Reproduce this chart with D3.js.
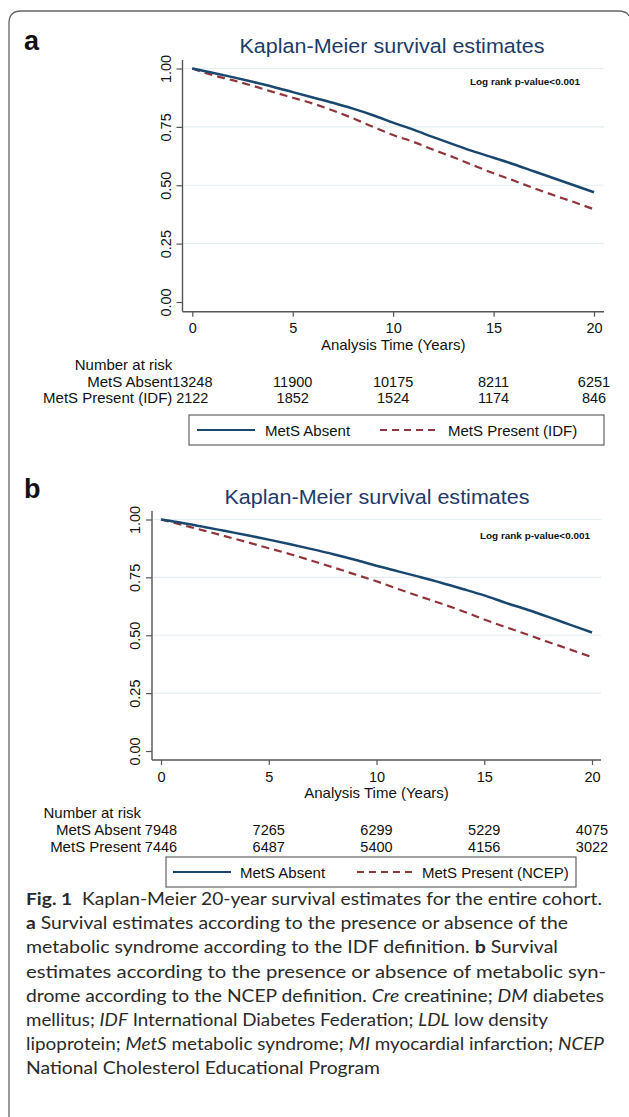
<!DOCTYPE html>
<html>
<head>
<meta charset="utf-8">
<script src="https://cdn.jsdelivr.net/npm/d3@7"></script>
<style>
  html, body { margin: 0; padding: 0; background: #fff; }
  svg { display: block; }
</style>
</head>
<body>
<svg id="chart" width="629" height="1117"></svg>
<script>
// ---------------- DATA ----------------
const years = [0,1,2,3,4,5,6,7,8,9,10,11,12,13,14,15,16,17,18,19,20];
const survAbsentA  = [1.000,0.982,0.963,0.943,0.922,0.899,0.876,0.853,0.828,0.800,0.768,0.738,0.706,0.675,0.645,0.618,0.590,0.560,0.530,0.500,0.470];
const survPresentA = [1.000,0.972,0.950,0.926,0.900,0.875,0.850,0.820,0.787,0.750,0.715,0.686,0.652,0.620,0.585,0.551,0.520,0.488,0.457,0.428,0.397];
const survAbsentB  = [1.000,0.985,0.968,0.950,0.932,0.913,0.893,0.872,0.850,0.826,0.800,0.776,0.752,0.727,0.700,0.672,0.640,0.610,0.578,0.545,0.512];
const survPresentB = [1.000,0.976,0.952,0.927,0.902,0.876,0.850,0.822,0.793,0.763,0.733,0.700,0.668,0.637,0.604,0.568,0.535,0.503,0.470,0.438,0.405];

const xTicks = [0,5,10,15,20];
const yTicks = [0,0.25,0.5,0.75,1];
const yTickLabels = ["0.00","0.25","0.50","0.75","1.00"];
const riskTimes = [0,5,10,15,20];
const riskAbsentA  = [13248,11900,10175,8211,6251];
const riskPresentA = [2122,1852,1524,1174,846];
const riskAbsentB  = [7948,7265,6299,5229,4075];
const riskPresentB = [7446,6487,5400,4156,3022];
const rowLabelsA = ["MetS Absent","MetS Present (IDF)"];
const rowLabelsB = ["MetS Absent","MetS Present"];
const legendLabelsA = ["MetS Absent","MetS Present (IDF)"];
const legendLabelsB = ["MetS Absent","MetS Present (NCEP)"];
const titleText = "Kaplan-Meier survival estimates";
const pvalText = "Log rank p-value<0.001";
const xTitle = "Analysis Time (Years)";
const riskTitle = "Number at risk";

// ---------------- STYLE ----------------
const FONT = "'Liberation Sans', Arial, Helvetica, sans-serif";
const BLUE = "#1a476f";
const RED = "#90353b";
const TITLE_COL = "#1e3a68";
const GRID = "#e4edf0";
const AXIS = "#555";

const svg = d3.select("#chart");

// frame (left and top edges only)
svg.append("path")
  .attr("d", "M9,1120 L9,23 Q9,11 21,11 L618,11 Q627,11 629,16")
  .attr("fill", "none").attr("stroke", "#666").attr("stroke-width", 1.3);

function panel(cfg) {
  const g = svg.append("g");
  const x = d3.scaleLinear().domain([0, 20]).range([cfg.x0, cfg.x20]);
  const y = d3.scaleLinear().domain([0, 1]).range([cfg.y0, cfg.y1]);

  // panel letter
  g.append("text").attr("x", cfg.letterX).attr("y", cfg.letterY)
    .attr("font-family", FONT).attr("font-weight", "bold").attr("font-size", 27)
    .attr("fill", "#111").text(cfg.letter);

  // title
  g.append("text").attr("x", cfg.titleX).attr("y", cfg.titleY)
    .attr("text-anchor", "middle").attr("font-family", FONT).attr("font-size", 20.5)
    .attr("fill", TITLE_COL).attr("textLength", 305).attr("lengthAdjust", "spacingAndGlyphs")
    .text(titleText);

  // gridlines
  g.append("g").selectAll("line").data(yTicks.filter(d => d > 0)).join("line")
    .attr("x1", cfg.axisX + 1).attr("x2", cfg.xEnd)
    .attr("y1", d => y(d)).attr("y2", d => y(d))
    .attr("stroke", GRID).attr("stroke-width", 1.2);

  // y axis
  const yAxis = d3.axisLeft(y).tickValues(yTicks)
    .tickFormat((d, i) => yTickLabels[i]).tickSize(6).tickSizeOuter(0);
  const ya = g.append("g").attr("transform", `translate(${cfg.axisX},0)`).call(yAxis);
  ya.select(".domain").attr("d", `M0,${cfg.yTop}V${cfg.axisY}`).attr("stroke", AXIS).attr("stroke-width", 1.4);
  ya.selectAll(".tick line").attr("stroke", AXIS).attr("stroke-width", 1.2);
  ya.selectAll(".tick text")
    .attr("font-family", FONT).attr("font-size", 14.5).attr("fill", "#111")
    .attr("x", null).attr("dy", null)
    .attr("text-anchor", "middle")
    .attr("transform", "translate(-12,0) rotate(-90)");

  // x axis
  const xAxis = d3.axisBottom(x).tickValues(xTicks).tickSize(5).tickSizeOuter(0);
  const xa = g.append("g").attr("transform", `translate(0,${cfg.axisY})`).call(xAxis);
  xa.select(".domain").attr("d", `M${cfg.axisX},0H${cfg.xEnd}`).attr("stroke", AXIS).attr("stroke-width", 1.4);
  xa.selectAll(".tick line").attr("stroke", AXIS).attr("stroke-width", 1.2);
  xa.selectAll(".tick text")
    .attr("font-family", FONT).attr("font-size", 14.5).attr("fill", "#111")
    .attr("y", 21.5).attr("dy", null);

  // x title
  g.append("text").attr("x", (cfg.x0 + cfg.x20) / 2).attr("y", cfg.axisY + 38)
    .attr("text-anchor", "middle").attr("font-family", FONT).attr("font-size", 15)
    .attr("fill", "#111").text(xTitle);

  // log rank
  g.append("text").attr("x", cfg.pX).attr("y", cfg.pY)
    .attr("font-family", FONT).attr("font-weight", "bold").attr("font-size", 9.5)
    .attr("fill", "#111").attr("textLength", 110).attr("lengthAdjust", "spacingAndGlyphs")
    .text(pvalText);

  // curves
  const line = d3.line().x((d, i) => x(years[i])).y(d => y(d)).curve(d3.curveMonotoneX);
  g.append("path").datum(cfg.present).attr("d", line)
    .attr("fill", "none").attr("stroke", RED).attr("stroke-width", 2.2)
    .attr("stroke-dasharray", "8,5");
  g.append("path").datum(cfg.absent).attr("d", line)
    .attr("fill", "none").attr("stroke", BLUE).attr("stroke-width", 2.5);

  // risk table
  const labelRight = cfg.x0 - 20;
  const rt = g.append("g").attr("font-family", FONT).attr("font-size", 15).attr("fill", "#111");
  rt.append("text").attr("x", labelRight).attr("y", cfg.axisY + 58)
    .attr("text-anchor", "end").text(riskTitle);
  [cfg.riskAbsent, cfg.riskPresent].forEach((row, r) => {
    const yy = cfg.axisY + 75 + r * 16.5;
    rt.append("text").attr("x", labelRight).attr("y", yy).attr("text-anchor", "end").text(cfg.rowLabels[r]);
    rt.selectAll(null).data(row).join("text")
      .attr("x", (d, i) => x(riskTimes[i])).attr("y", yy)
      .attr("text-anchor", "middle").attr("font-size", 14.5).text(d => d);
  });

  // legend
  const lg = g.append("g");
  lg.append("rect").attr("x", cfg.legX1).attr("y", cfg.legY)
    .attr("width", cfg.legX2 - cfg.legX1).attr("height", 30)
    .attr("fill", "#fff").attr("stroke", "#555").attr("stroke-width", 1.1);
  const ly = cfg.legY + 15;
  lg.append("line").attr("x1", cfg.leg[0]).attr("x2", cfg.leg[0] + 58).attr("y1", ly).attr("y2", ly)
    .attr("stroke", BLUE).attr("stroke-width", 2);
  lg.append("text").attr("x", cfg.leg[1]).attr("y", ly + 5.5)
    .attr("font-family", FONT).attr("font-size", 15).attr("fill", "#111").text(cfg.legendLabels[0]);
  lg.append("line").attr("x1", cfg.leg[2]).attr("x2", cfg.leg[2] + 58).attr("y1", ly).attr("y2", ly)
    .attr("stroke", RED).attr("stroke-width", 1.8).attr("stroke-dasharray", "7,5");
  lg.append("text").attr("x", cfg.leg[3]).attr("y", ly + 5.5)
    .attr("font-family", FONT).attr("font-size", 15).attr("fill", "#111").text(cfg.legendLabels[1]);
}

panel({
  letter: "a", letterX: 24, letterY: 50,
  titleX: 392, titleY: 53,
  axisX: 182.5, x0: 192.3, x20: 594, xEnd: 604,
  yTop: 60, y1: 68.5, y0: 302, axisY: 311.7,
  pX: 470, pY: 85,
  absent: survAbsentA, present: survPresentA,
  riskAbsent: riskAbsentA, riskPresent: riskPresentA, rowLabels: rowLabelsA,
  legX1: 189, legX2: 604, legY: 415, leg: [197, 265, 380, 448],
  legendLabels: legendLabelsA
});

panel({
  letter: "b", letterX: 24, letterY: 498,
  titleX: 377, titleY: 504,
  axisX: 152, x0: 161, x20: 592, xEnd: 601,
  yTop: 511, y1: 519.5, y0: 751, axisY: 760,
  pX: 480, pY: 539,
  absent: survAbsentB, present: survPresentB,
  riskAbsent: riskAbsentB, riskPresent: riskPresentB, rowLabels: rowLabelsB,
  legX1: 166, legX2: 576, legY: 857, leg: [173, 240, 357, 422],
  legendLabels: legendLabelsB
});

// ---------------- CAPTION ----------------
const CAP_FONT = "Lato, 'Open Sans', 'Noto Sans', sans-serif";
const captionLines = [
  { w: 576, parts: [["Fig. 1", "b"], ["  Kaplan-Meier 20-year survival estimates for the entire cohort.", "n"]] },
  { w: 542, parts: [["a", "b"], [" Survival estimates according to the presence or absence of the", "n"]] },
  { w: 532, parts: [["metabolic syndrome according to the IDF definition. ", "n"], ["b", "b"], [" Survival", "n"]] },
  { w: 580, parts: [["estimates according to the presence or absence of metabolic syn-", "n"]] },
  { w: 578, parts: [["drome according to the NCEP definition. ", "n"], ["Cre", "i"], [" creatinine; ", "n"], ["DM", "i"], [" diabetes", "n"]] },
  { w: 522, parts: [["mellitus; ", "n"], ["IDF", "i"], [" International Diabetes Federation; ", "n"], ["LDL", "i"], [" low density", "n"]] },
  { w: 578, parts: [["lipoprotein; ", "n"], ["MetS", "i"], [" metabolic syndrome; ", "n"], ["MI", "i"], [" myocardial infarction; ", "n"], ["NCEP", "i"]] },
  { w: 354, parts: [["National Cholesterol Educational Program", "n"]] }
];
const cap = svg.append("g").attr("font-family", CAP_FONT).attr("font-size", 17).attr("fill", "#2a2a2a");
captionLines.forEach((ln, i) => {
  const t = cap.append("text").attr("x", 26).attr("y", 905 + i * 24.2)
    .attr("xml:space", "preserve").style("white-space", "pre")
    .attr("textLength", ln.w).attr("lengthAdjust", "spacingAndGlyphs");
  ln.parts.forEach(([s, k]) => {
    const ts = t.append("tspan").text(s);
    if (k === "b") ts.attr("font-weight", "bold");
    if (k === "i") ts.attr("font-style", "italic");
  });
});
</script>
</body>
</html>
